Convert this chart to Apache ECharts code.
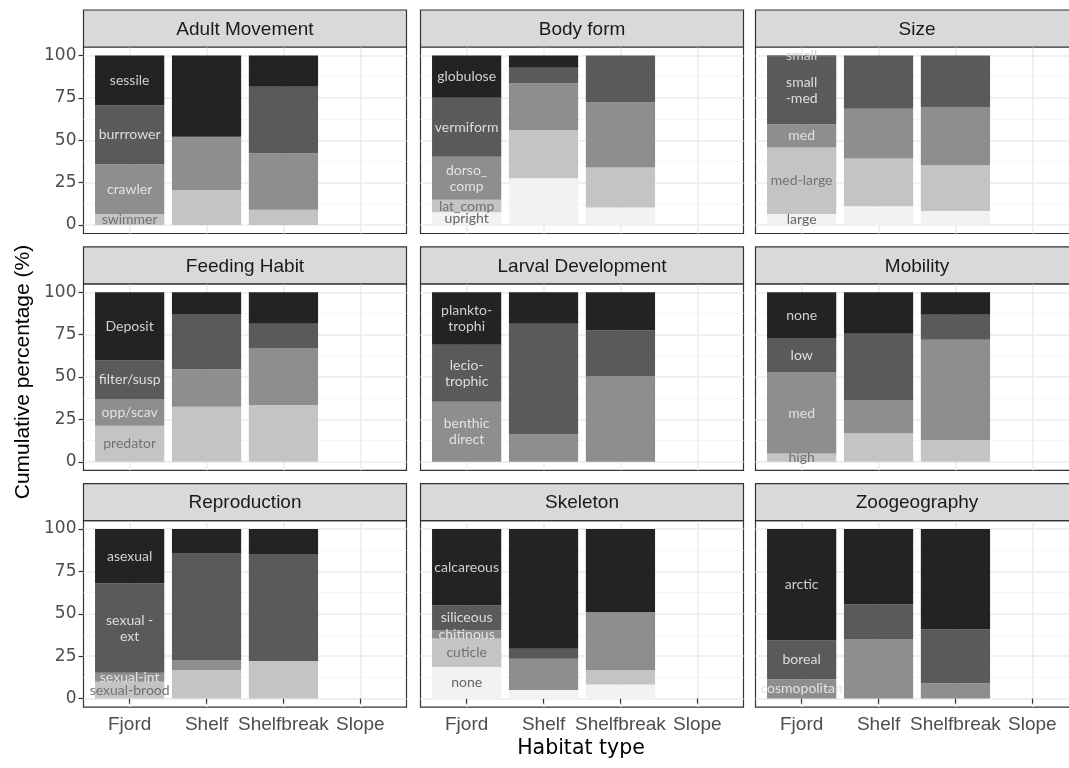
<!DOCTYPE html>
<html><head><meta charset="utf-8">
<script src="https://cdn.jsdelivr.net/npm/echarts@6/dist/echarts.min.js"></script>
<style>html,body{margin:0;padding:0;background:#fff}#c{width:1069px;height:768px}</style>
</head><body><div id="c"></div><script>
// ---------- data ----------
const habitats = ['Fjord', 'Shelf', 'Shelfbreak', 'Slope'];
const yTicks = [0, 25, 50, 75, 100];
const yMinorTicks = [12.5, 37.5, 62.5, 87.5];
const xTickValues = [1, 2, 3, 4];
const panelTitles = ['Adult Movement', 'Body form', 'Size', 'Feeding Habit', 'Larval Development', 'Mobility', 'Reproduction', 'Skeleton', 'Zoogeography'];
const yTitle = 'Cumulative percentage (%)';
const xTitle = 'Habitat type';

// levels listed top (darkest) to bottom; values per habitat: Fjord, Shelf, Shelfbreak, Slope
const adultLevels = ['sessile', 'burrrower', 'crawler', 'swimmer'];
const adultValues = [[29.4, 48.0, 18.4, null], [34.7, 0, 39.2, null], [29.4, 31.4, 33.4, null], [6.5, 20.6, 9.0, null]];

const bodyLevels = ['globulose', 'vermiform', 'dorso_\ncomp', 'lat_comp', 'upright'];
const bodyValues = [[24.9, 7.3, 0, null], [34.9, 9.2, 27.8, null], [25.3, 27.4, 38.3, null], [7.4, 28.5, 23.5, null], [7.5, 27.6, 10.4, null]];

const sizeLevels = ['small', 'small\n-med', 'med', 'med-large', 'large'];
const sizeValues = [[0.5, 0, 0, null], [40.1, 31.4, 30.4, null], [13.7, 29.4, 34.3, null], [39.2, 28.2, 27.1, null], [6.5, 11.0, 8.2, null]];

const feedLevels = ['Deposit', 'filter/susp', 'opp/scav', 'predator'];
const feedValues = [[40.2, 12.8, 18.5, null], [22.7, 32.6, 14.4, null], [15.8, 22.1, 33.6, null], [21.3, 32.5, 33.5, null]];

const larvalLevels = ['plankto-\ntrophi', 'lecio-\ntrophic', 'benthic\ndirect'];
const larvalValues = [[31.0, 18.5, 22.5, null], [33.5, 65.3, 27.2, null], [35.5, 16.2, 50.3, null]];

const mobilityLevels = ['none', 'low', 'med', 'high'];
const mobilityValues = [[27.0, 24.5, 13.2, null], [20.3, 39.4, 14.8, null], [47.8, 19.3, 59.2, null], [4.9, 16.8, 12.8, null]];

const reproLevels = ['asexual', 'sexual -\next', 'sexual-int', 'sexual-brood'];
const reproValues = [[32.0, 14.1, 14.7, null], [52.7, 63.4, 63.1, null], [5.3, 5.6, 0, null], [10.0, 16.9, 22.2, null]];

const skeletonLevels = ['calcareous', 'siliceous', 'chitinous', 'cuticle', 'none'];
const skeletonValues = [[45.1, 70.6, 49.0, null], [14.5, 5.9, 0, null], [4.9, 18.4, 34.3, null], [16.9, 0, 8.3, null], [18.6, 5.1, 8.4, null]];

const zooLevels = ['arctic', 'boreal', 'cosmopolitan'];
const zooValues = [[65.7, 44.5, 59.2, null], [22.9, 20.6, 31.8, null], [11.4, 34.9, 9.0, null]];

const panelLevels = [adultLevels, bodyLevels, sizeLevels, feedLevels, larvalLevels, mobilityLevels, reproLevels, skeletonLevels, zooLevels];
const panelValues = [adultValues, bodyValues, sizeValues, feedValues, larvalValues, mobilityValues, reproValues, skeletonValues, zooValues];

// ---------- layout / style ----------
const W = 1069;
const colLeft = [83.5, 420.5, 755.5];
const panelW = 323;
const rowTop = [10, 246.8, 483.6];
const stripH = 37;
const panelH = 186.5;
const greys = ['#232323', '#5a5a5a', '#8e8e8e', '#c4c4c4', '#f2f2f2'];
const labelColors = ['#d0d0d0', '#dedede', '#e2e2e2', '#727272', '#666666'];

const grid = [], xAxis = [], yAxis = [], series = [], graphic = [];

panelTitles.forEach((title, i) => {
  const r = Math.floor(i / 3), c = i % 3;
  const L = colLeft[c], T = rowTop[r] + stripH;
  const isLeft = c === 0, isBottom = r === 2;

  // panel frame grid (ggplot expansion: x 0.4..4.6, y -5..105)
  grid.push({ left: L, right: W - (L + panelW), top: T, height: panelH, outerBoundsMode: 'none', containLabel: false,
    show: true, backgroundColor: '#ffffff', borderColor: '#333333', borderWidth: 1.2 });
  const gp = grid.length - 1;
  xAxis.push({
    gridIndex: gp, type: 'value', min: 0.4, max: 4.6,
    axisLine: { show: false },
    axisTick: { show: isBottom, customValues: xTickValues, length: 5, lineStyle: { color: '#333333', width: 1.2 } },
    axisLabel: { show: isBottom, customValues: xTickValues, formatter: v => habitats[Math.round(v) - 1], color: '#4d4d4d', fontSize: 19, fontFamily: 'Liberation Sans', margin: 8 },
    splitLine: { show: true, lineStyle: { color: '#ebebeb', width: 1.5 } }
  });
  yAxis.push({
    gridIndex: gp, type: 'value', min: -5, max: 105,
    axisLine: { show: false },
    axisTick: { show: isLeft, customValues: yTicks, length: 5, lineStyle: { color: '#333333', width: 1.2 } },
    axisLabel: { show: isLeft, customValues: yTicks, color: '#4d4d4d', fontSize: 17, fontFamily: 'DejaVu Sans', margin: 7 },
    splitLine: { show: true, lineStyle: { color: '#ebebeb', width: 1.5 } }
  });
  yAxis.push({
    gridIndex: gp, type: 'value', min: -5, max: 105, position: 'left',
    axisLine: { show: false },
    axisTick: { show: false, customValues: yMinorTicks },
    axisLabel: { show: false },
    splitLine: { show: true, lineStyle: { color: '#f3f3f3', width: 0.8 } }
  });

  // bar grid: categories occupy 0.5..4.5, values 0..100
  const bL = L + panelW * 0.1 / 4.2, bW = panelW * 4 / 4.2;
  grid.push({ left: bL, right: W - (bL + bW), top: T + panelH * 5 / 110, height: panelH * 100 / 110, outerBoundsMode: 'none', containLabel: false });
  const gb = grid.length - 1;
  xAxis.push({ gridIndex: gb, type: 'category', data: habitats, show: false });
  const xb = xAxis.length - 1;
  yAxis.push({ gridIndex: gb, type: 'value', min: 0, max: 100, show: false });
  const yb = yAxis.length - 1;

  const levels = panelLevels[i], vals = panelValues[i];
  for (let k = levels.length - 1; k >= 0; k--) {
    const name = levels[k];
    series.push({
      type: 'bar', name: name, xAxisIndex: xb, yAxisIndex: yb, stack: 'p' + i,
      barWidth: '90%', data: vals[k], silent: true,
      itemStyle: { color: greys[k] },
      label: {
        show: true, position: 'inside',
        formatter: p => (p.dataIndex === 0 ? name : ''),
        color: labelColors[k], fontFamily: 'Lato', fontSize: 14, lineHeight: 16
      }
    });
  }

  // strip
  graphic.push({ type: 'rect', shape: { x: L, y: rowTop[r], width: panelW, height: stripH }, style: { fill: '#d9d9d9', stroke: '#333333', lineWidth: 1.2 }, z: 10 });
  graphic.push({ type: 'text', x: L + panelW / 2, y: rowTop[r] + stripH / 2 + 1, style: { text: title, fontSize: 19, fontFamily: 'Liberation Sans', fill: '#1a1a1a', align: 'center', verticalAlign: 'middle' }, z: 11 });
});

graphic.push({ type: 'text', x: 23, y: 372, rotation: Math.PI / 2, style: { text: yTitle, fontSize: 21, fontFamily: 'Liberation Sans', fill: '#000000', align: 'center', verticalAlign: 'middle' } });
graphic.push({ type: 'text', x: 581, y: 749, style: { text: xTitle, fontSize: 20.5, fontFamily: 'DejaVu Sans', fill: '#000000', align: 'center', verticalAlign: 'middle' } });

const chart = echarts.init(document.getElementById('c'), null, { renderer: 'canvas' });
chart.setOption({ animation: false, backgroundColor: '#ffffff', grid, xAxis, yAxis, series, graphic });
</script></body></html>
